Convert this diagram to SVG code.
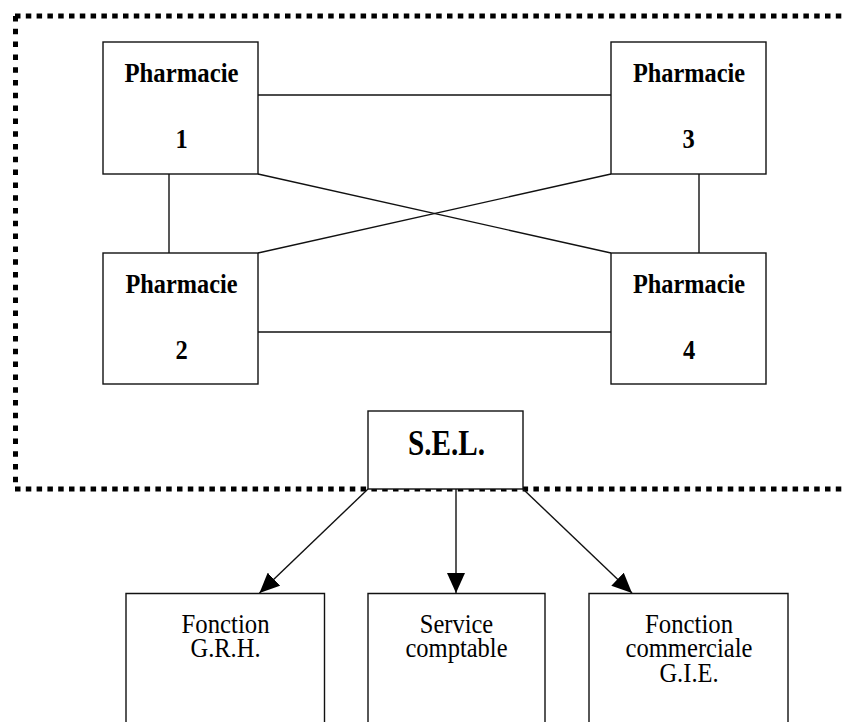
<svg xmlns="http://www.w3.org/2000/svg" width="843" height="722" viewBox="0 0 843 722">
<style>
.box{fill:#fff;stroke:#111;stroke-width:1.4}
.ln{stroke:#111;stroke-width:1.4;fill:none}
.dot{stroke:#000;stroke-width:5;fill:none}
.b{font-family:"Liberation Serif","Times New Roman",serif;font-weight:bold;font-size:24.5px;text-anchor:middle;fill:#000}
.s{font-family:"Liberation Serif","Times New Roman",serif;font-weight:bold;font-size:29.5px;text-anchor:middle;fill:#000}
.r{font-family:"Liberation Serif","Times New Roman",serif;font-size:24.5px;text-anchor:middle;fill:#000}
</style>
<defs>
<marker id="ah" viewBox="0 0 20 18" refX="20" refY="9" markerWidth="20" markerHeight="18" markerUnits="userSpaceOnUse" orient="auto">
<path d="M0,0 L20,9 L0,18 Z" fill="#000"/>
</marker>
</defs>
<rect width="843" height="722" fill="#fff"/>
<g id="border">
<path class="dot" d="M15,16 H843" stroke-dasharray="5.5 5.3"/>
<path class="dot" d="M15.5,16 V489" stroke-dasharray="5.5 7.3"/>
<path class="dot" d="M15,489 H843" stroke-dasharray="5.5 5.3"/>
</g>
<g id="connectors">
<line class="ln" x1="258" y1="95" x2="611" y2="95"/>
<line class="ln" x1="258" y1="332" x2="611" y2="332"/>
<line class="ln" x1="169" y1="174" x2="169" y2="253"/>
<line class="ln" x1="699" y1="174" x2="699" y2="253"/>
<line class="ln" x1="258" y1="174" x2="611" y2="253"/>
<line class="ln" x1="258" y1="253" x2="611" y2="174"/>
<line class="ln" x1="368" y1="489" x2="259.5" y2="593" marker-end="url(#ah)"/>
<line class="ln" x1="456" y1="489" x2="456" y2="593" marker-end="url(#ah)"/>
<line class="ln" x1="523" y1="489" x2="632" y2="593" marker-end="url(#ah)"/>
</g>
<g id="pharmacie1">
<rect class="box" x="103" y="42" width="155" height="132"/>
<text class="b" transform="translate(181.5,81.7) scale(1,1.15)" textLength="114" lengthAdjust="spacingAndGlyphs">Pharmacie</text>
<text class="b" transform="translate(181.5,148) scale(1,1.15)">1</text>
</g>
<g id="pharmacie3">
<rect class="box" x="611" y="42" width="155" height="132"/>
<text class="b" transform="translate(689,81.7) scale(1,1.15)" textLength="112" lengthAdjust="spacingAndGlyphs">Pharmacie</text>
<text class="b" transform="translate(688.5,148) scale(1,1.15)">3</text>
</g>
<g id="pharmacie2">
<rect class="box" x="103" y="253" width="155" height="131"/>
<text class="b" transform="translate(181.5,292.5) scale(1,1.15)" textLength="112" lengthAdjust="spacingAndGlyphs">Pharmacie</text>
<text class="b" transform="translate(181.5,358.5) scale(1,1.15)">2</text>
</g>
<g id="pharmacie4">
<rect class="box" x="611" y="253" width="155" height="131"/>
<text class="b" transform="translate(689,292.5) scale(1,1.15)" textLength="112" lengthAdjust="spacingAndGlyphs">Pharmacie</text>
<text class="b" transform="translate(689,358.5) scale(1,1.15)">4</text>
</g>
<g id="sel">
<rect class="box" x="368" y="411" width="155" height="78"/>
<text class="s" transform="translate(446.5,455) scale(1,1.2)" textLength="77" lengthAdjust="spacingAndGlyphs">S.E.L.</text>
</g>
<g id="grh">
<path class="box" d="M126,730 V593.5 H324.5 V730"/>
<text class="r" transform="translate(225.5,632.7) scale(1,1.15)" textLength="88" lengthAdjust="spacingAndGlyphs">Fonction</text>
<text class="r" transform="translate(225.5,656.7) scale(1,1.15)">G.R.H.</text>
</g>
<g id="comptable">
<path class="box" d="M368,730 V593.5 H545 V730"/>
<text class="r" transform="translate(456.5,632.7) scale(1,1.15)">Service</text>
<text class="r" transform="translate(456.5,656.7) scale(1,1.15)">comptable</text>
</g>
<g id="commerciale">
<path class="box" d="M589,730 V593.5 H788 V730"/>
<text class="r" transform="translate(689,632.7) scale(1,1.15)" textLength="88" lengthAdjust="spacingAndGlyphs">Fonction</text>
<text class="r" transform="translate(689,656.7) scale(1,1.15)" textLength="127" lengthAdjust="spacingAndGlyphs">commerciale</text>
<text class="r" transform="translate(689,681.5) scale(1,1.15)">G.I.E.</text>
</g>
</svg>
